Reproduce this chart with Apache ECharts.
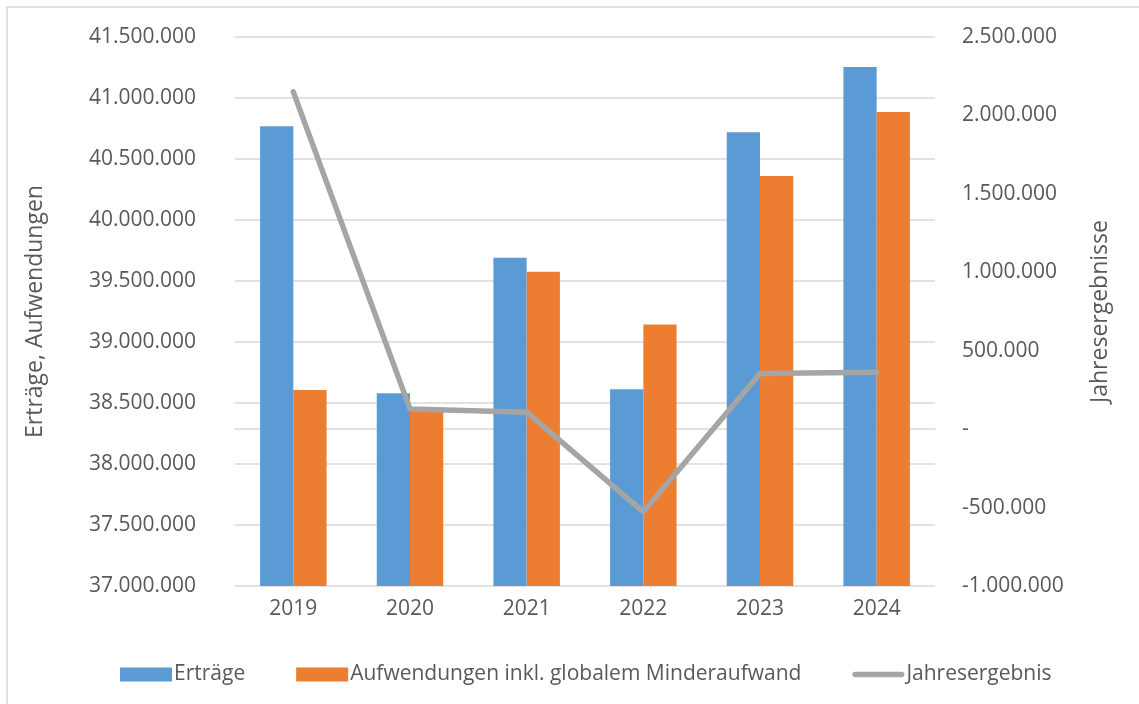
<!DOCTYPE html>
<html>
<head>
<meta charset="utf-8">
<script src="https://cdn.jsdelivr.net/npm/echarts@6/dist/echarts.min.js"></script>
<style>
  html, body { margin: 0; padding: 0; background: #fff; }
  #chart { width: 1139px; height: 704px; }
</style>
</head>
<body>
<div id="chart"></div>
<script>
// Jahre
const years = ['2019', '2020', '2021', '2022', '2023', '2024'];
// Werte (geschätzt)
const ertraege = [40768000, 38580000, 39691000, 38612000, 40719000, 41254000];
const aufwendungen = [38607000, 38434000, 39576000, 39143000, 40361000, 40885000];
const jahresergebnis = [2150000, 129000, 108000, -527000, 355000, 363000];

const textColor = '#595959';
const fontFamily = '"Open Sans", sans-serif';

// 1234567 -> 1.234.567
const fmt = (v) => {
  const s = Math.abs(v).toFixed(0).replace(/\B(?=(\d{3})+(?!\d))/g, '.');
  return (v < 0 ? '-' : '') + s;
};

const chart = echarts.init(document.getElementById('chart'));

const option = {
  animation: false,
  textStyle: { fontFamily: fontFamily, color: textColor },
  graphic: [
    {
      type: 'rect',
      shape: { x: 7, y: 7, width: 1140, height: 710 },
      style: { fill: 'none', stroke: '#d9d9d9', lineWidth: 1.5 },
      silent: true
    }
  ],
  grid: {
    left: 235,
    right: 204,
    top: 37,
    bottom: 118
  },
  legend: {
    left: 115,
    top: 659,
    itemGap: 51,
    itemWidth: 52,
    itemHeight: 14,
    textStyle: { fontSize: 21, color: textColor, padding: [0, 0, 0, -3] },
    data: [
      { name: 'Erträge', icon: 'rect' },
      { name: 'Aufwendungen inkl. globalem Minderaufwand', icon: 'rect' },
      {
        name: 'Jahresergebnis',
        icon: 'path://M3,0 H53 A3,3 0 0 1 53,6 H3 A3,3 0 0 1 3,0 Z',
        itemStyle: { color: '#a5a5a5', borderWidth: 0 }
      }
    ]
  },
  xAxis: {
    type: 'category',
    data: years,
    axisLine: { lineStyle: { color: '#d9d9d9', width: 1.5 } },
    axisTick: { show: false },
    axisLabel: { fontSize: 21, color: textColor, margin: 13 }
  },
  yAxis: [
    {
      type: 'value',
      min: 37000000,
      max: 41500000,
      interval: 500000,
      name: 'Erträge, Aufwendungen',
      nameLocation: 'middle',
      nameGap: 188,
      nameTextStyle: { fontSize: 23, color: textColor },
      axisLine: { show: false },
      axisTick: { show: false },
      axisLabel: { fontSize: 21, color: textColor, margin: 39, formatter: fmt },
      splitLine: { lineStyle: { color: '#d9d9d9', width: 1.5 } }
    },
    {
      type: 'value',
      min: -1000000,
      max: 2500000,
      interval: 500000,
      name: 'Jahresergebnisse',
      nameLocation: 'middle',
      nameRotate: 90,
      nameGap: 154,
      nameTextStyle: { fontSize: 23, color: textColor },
      axisLine: { show: false },
      axisTick: { show: false },
      axisLabel: {
        fontSize: 21,
        color: textColor,
        margin: 27,
        formatter: (v) => (v === 0 ? '-' : fmt(v))
      },
      splitLine: { show: false }
    }
  ],
  series: [
    {
      name: 'Erträge',
      type: 'bar',
      data: ertraege,
      barGap: '0%',
      barCategoryGap: '43%',
      itemStyle: { color: '#5b9bd5' }
    },
    {
      name: 'Aufwendungen inkl. globalem Minderaufwand',
      type: 'bar',
      data: aufwendungen,
      itemStyle: { color: '#ed7d31' }
    },
    {
      name: 'Jahresergebnis',
      type: 'line',
      yAxisIndex: 1,
      data: jahresergebnis,
      symbol: 'none',
      lineStyle: { color: '#a5a5a5', width: 5.5, cap: 'round' },
      itemStyle: { color: '#a5a5a5' }
    }
  ]
};

chart.setOption(option);
</script>
</body>
</html>
